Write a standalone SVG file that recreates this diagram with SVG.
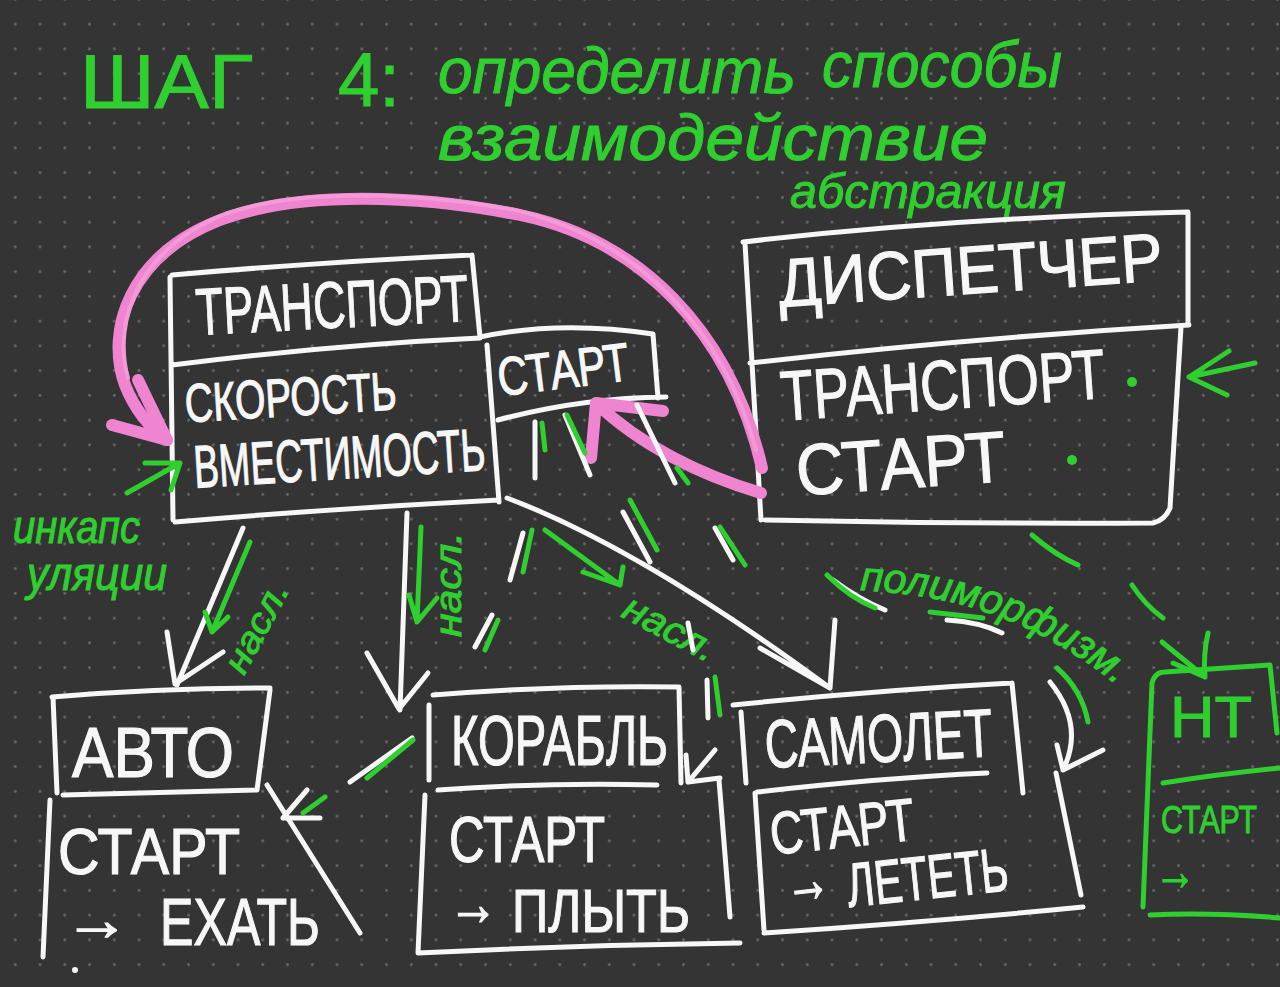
<svg xmlns="http://www.w3.org/2000/svg" width="1280" height="987" viewBox="0 0 1280 987">
<defs>
<pattern id="dots" width="24.75" height="24.75" patternUnits="userSpaceOnUse" x="2.9" y="11.8">
<circle cx="12.375" cy="12.375" r="1.4" fill="#6a6a6a"/>
</pattern>
<style>
.w{fill:none;stroke:#f7f7f7;stroke-width:5;stroke-linecap:round;stroke-linejoin:round}
.g{fill:none;stroke:#2fcf2f;stroke-width:5;stroke-linecap:round;stroke-linejoin:round}
.p{fill:none;stroke:#ef84d0;stroke-width:12;stroke-linecap:round;stroke-linejoin:round}
.p2{fill:none;stroke:#f59ad9;stroke-width:4;stroke-linecap:round;stroke-linejoin:round}
.tw{fill:#f7f7f7;stroke:#f7f7f7;stroke-width:1.2;font-family:"Liberation Sans","DejaVu Sans",sans-serif}
.tg{fill:#2fcf2f;stroke:#2fcf2f;stroke-width:1;font-family:"Liberation Sans","DejaVu Sans",sans-serif;font-style:italic}
.tgu{fill:#2fcf2f;stroke:#2fcf2f;stroke-width:1;font-family:"Liberation Sans","DejaVu Sans",sans-serif}
.up{font-style:normal}
.dw{fill:#f7f7f7}
.dg{fill:#2fcf2f}
</style>
<path id="polyPath" d="M860,590 C950,595 1040,615 1140,705"/>
</defs>
<rect width="1280" height="987" fill="#343434"/>
<rect width="1280" height="987" fill="url(#dots)"/>

<g id="title">
<text class="tg"><tspan class="up" x="80" y="108" font-size="76" textLength="173" lengthAdjust="spacingAndGlyphs">ШАГ</tspan><tspan class="up" x="338" y="106" font-size="76" textLength="62" lengthAdjust="spacingAndGlyphs">4:</tspan><tspan x="438" y="93" font-size="64" textLength="358" lengthAdjust="spacingAndGlyphs">определить</tspan><tspan x="822" y="87" font-size="64" textLength="240" lengthAdjust="spacingAndGlyphs">способы</tspan><tspan x="438" y="160" font-size="64" textLength="550" lengthAdjust="spacingAndGlyphs">взаимодействие</tspan></text>
<text class="tg" x="790" y="208" font-size="48" textLength="276" lengthAdjust="spacingAndGlyphs">абстракция</text>
</g>

<g id="annotations">
<text class="tg" font-size="46"><tspan x="13" y="543" textLength="127" lengthAdjust="spacingAndGlyphs">инкапс</tspan><tspan x="27" y="590" textLength="140" lengthAdjust="spacingAndGlyphs">уляции</tspan></text>
<text class="tg" font-size="36" textLength="98" lengthAdjust="spacingAndGlyphs" transform="translate(244,676) rotate(-62)">насл.</text>
<text class="tg" font-size="36" textLength="105" lengthAdjust="spacingAndGlyphs" transform="translate(461,637) rotate(-90)">насл.</text>
<text class="tg" font-size="38" textLength="100" lengthAdjust="spacingAndGlyphs" transform="translate(620,616) rotate(28)">насл.</text>
<text class="tg" font-size="41"><textPath href="#polyPath">полиморфизм.</textPath></text>
</g>

<g id="transport">
<path class="w" d="M172,275 Q320,262 472,255 M170,277 L173,520 M472,255 L480,337 M487,345 L499,502 M172,365 Q330,345 480,338 M175,522 Q340,508 499,500"/>
<text class="tw" x="197" y="335" font-size="66" textLength="273" lengthAdjust="spacingAndGlyphs" transform="rotate(-3,197,335)">ТРАНСПОРТ</text>
<text class="tw" transform="rotate(-3.5,190,455)"><tspan x="188" y="422" font-size="54" textLength="212" lengthAdjust="spacingAndGlyphs">СКОРОСТЬ</tspan><tspan x="193" y="488" font-size="60" textLength="292" lengthAdjust="spacingAndGlyphs">ВМЕСТИМОСТЬ</tspan></text>
</g>

<g id="transport-start">
<path class="w" d="M480,337 Q560,320 653,334 L658,398 M498,420 Q580,398 666,397"/>
<text class="tw" x="500" y="396" font-size="54" textLength="132" lengthAdjust="spacingAndGlyphs" transform="rotate(-7,500,396)">СТАРТ</text>
</g>

<g id="dispatcher">
<path class="w" d="M743,242 Q950,218 1188,212 M745,243 L752,363 L761,520 M1188,213 L1188,325 M1181,327 L1170,508 Q1165,520 1153,523 M750,363 Q970,338 1189,325 M765,520 Q960,524 1153,523"/>
<text class="tw" x="780" y="307" font-size="68" textLength="385" lengthAdjust="spacingAndGlyphs" transform="rotate(-4,780,307)">ДИСПЕТЧЕР</text>
<text class="tw" transform="rotate(-4,790,458)"><tspan x="785" y="420" font-size="70" textLength="325" lengthAdjust="spacingAndGlyphs">ТРАНСПОРТ</tspan><tspan x="795" y="496" font-size="72" textLength="210" lengthAdjust="spacingAndGlyphs">СТАРТ</tspan></text>
<circle class="dg" cx="1132" cy="382" r="5"/>
<circle class="dg" cx="1072" cy="460" r="5"/>
</g>

<g id="avto">
<path class="w" d="M52,697 Q160,688 270,688 M53,697 L57,793 M270,690 L257,790 M63,795 L257,790 M50,800 L43,957 M267,785 Q305,845 360,933"/>
<circle class="dw" cx="75" cy="970" r="3"/>
<text class="tw" x="72" y="777" font-size="70" textLength="162" lengthAdjust="spacingAndGlyphs">АВТО</text>
<text class="tw"><tspan x="58" y="874" font-size="65" textLength="182" lengthAdjust="spacingAndGlyphs">СТАРТ</tspan><tspan x="64" y="940" font-size="60" textLength="66" lengthAdjust="spacingAndGlyphs">→</tspan><tspan x="160" y="945" font-size="66" textLength="160" lengthAdjust="spacingAndGlyphs">ЕХАТЬ</tspan></text>
</g>

<g id="korabl">
<path class="w" d="M433,695 Q560,685 679,687 M429,705 L429,780 M679,687 L681,783 M438,790 Q550,782 657,785 M425,795 L418,953 M719,780 L730,917 M418,953 Q580,945 740,943"/>
<text class="tw" x="451" y="765" font-size="70" textLength="217" lengthAdjust="spacingAndGlyphs">КОРАБЛЬ</text>
<text class="tw"><tspan x="449" y="862" font-size="64" textLength="156" lengthAdjust="spacingAndGlyphs">СТАРТ</tspan><tspan x="448" y="925" font-size="62" textLength="50" lengthAdjust="spacingAndGlyphs">→</tspan><tspan x="512" y="932" font-size="62" textLength="178" lengthAdjust="spacingAndGlyphs">ПЛЫТЬ</tspan></text>
</g>

<g id="samolet">
<path class="w" d="M733,705 Q880,690 1012,683 M741,712 L746,783 M1012,683 L1023,793 M757,792 Q880,778 987,773 M755,793 L764,930 M764,933 Q930,922 1083,907 M1056,773 L1081,895"/>
<text class="tw" x="766" y="768" font-size="68" textLength="228" lengthAdjust="spacingAndGlyphs" transform="rotate(-3,766,768)">САМОЛЕТ</text>
<text class="tw" transform="rotate(-6,800,880)"><tspan x="775" y="852" font-size="60" textLength="145" lengthAdjust="spacingAndGlyphs">СТАРТ</tspan><tspan x="784" y="903" font-size="66" textLength="46" lengthAdjust="spacingAndGlyphs">→</tspan><tspan x="846" y="912" font-size="62" textLength="162" lengthAdjust="spacingAndGlyphs">ЛЕТЕТЬ</tspan></text>
</g>

<g id="nt">
<path class="g" d="M1152,683 Q1155,672 1165,672 L1270,665 L1277,733 M1152,683 L1143,907 M1150,915 Q1210,912 1280,918 M1163,783 Q1220,774 1280,768"/>
<text class="tgu" x="1170" y="737" font-size="58" textLength="82" lengthAdjust="spacingAndGlyphs">НТ</text>
<text class="tgu"><tspan x="1161" y="833" font-size="38" textLength="96" lengthAdjust="spacingAndGlyphs">СТАРТ</tspan><tspan x="1154" y="890" font-size="56" textLength="42" lengthAdjust="spacingAndGlyphs">→</tspan></text>
</g>

<g id="connectors">
<path class="p" d="M762,468 C730,330 640,240 520,215 C420,195 300,190 220,220 C130,255 105,330 125,385 C135,410 150,428 167,440"/>
<path class="p2" d="M756,450 C722,325 635,238 515,210 C415,192 300,188 225,214 C140,248 112,320 128,378"/>
<path class="p" d="M112,425 L167,440 M138,380 L167,440"/>
<path class="p" d="M761,493 C700,475 640,445 596,403 M596,403 L663,411 M596,403 L591,458"/>
<path class="w" d="M243,528 L177,685 M167,632 L175,684 L223,652"/>
<path class="w" d="M407,513 L400,710 M367,653 L399,709 L428,673"/>
<path class="w" d="M507,498 Q640,548 830,688 M760,648 L830,688 L835,620"/>
<path class="g" d="M250,542 L212,632 M205,612 L212,632 L228,617"/>
<path class="g" d="M421,527 L417,622 M409,595 L417,622 L437,598"/>
<path class="g" d="M545,530 L620,585 M583,572 L620,585 L623,567"/>
<path class="g" d="M127,493 L180,463 M145,463 L180,463 L171,490"/>
<path class="g" d="M1255,363 L1189,377 M1229,351 L1189,377 L1227,395"/>
<path class="w" d="M535,422 L535,478 M523,533 L510,580 M492,615 L475,647 M412,738 L350,782 M307,790 L283,818 L320,818"/>
<path class="w" d="M565,415 L590,475 M623,512 L650,562 M688,623 L693,650 M707,680 L708,718 M715,750 L688,782 M686,755 L688,782 L720,778"/>
<path class="w" d="M637,405 L675,483 M715,528 L733,560 M833,580 Q860,600 885,610 M947,620 Q980,622 1002,633 M1050,682 Q1085,725 1063,770 M1057,745 L1063,770 L1103,750"/>
<path class="g" d="M542,423 L545,450 M532,530 L523,572 M498,620 L485,650 M413,740 L367,778 M325,797 L303,813"/>
<path class="g" d="M567,415 L585,453 M630,500 L657,550 M715,677 L720,715"/>
<path class="g" d="M677,468 L688,483 M720,527 L745,565 M827,575 Q850,598 875,608 M930,612 L983,618 M1057,668 Q1082,690 1088,722"/>
<path class="g" d="M1032,535 Q1055,555 1078,565 M1132,585 Q1145,605 1163,618 M1162,642 L1205,677 M1173,663 L1205,677 M1208,633 Q1203,655 1205,677"/>
</g>
</svg>
